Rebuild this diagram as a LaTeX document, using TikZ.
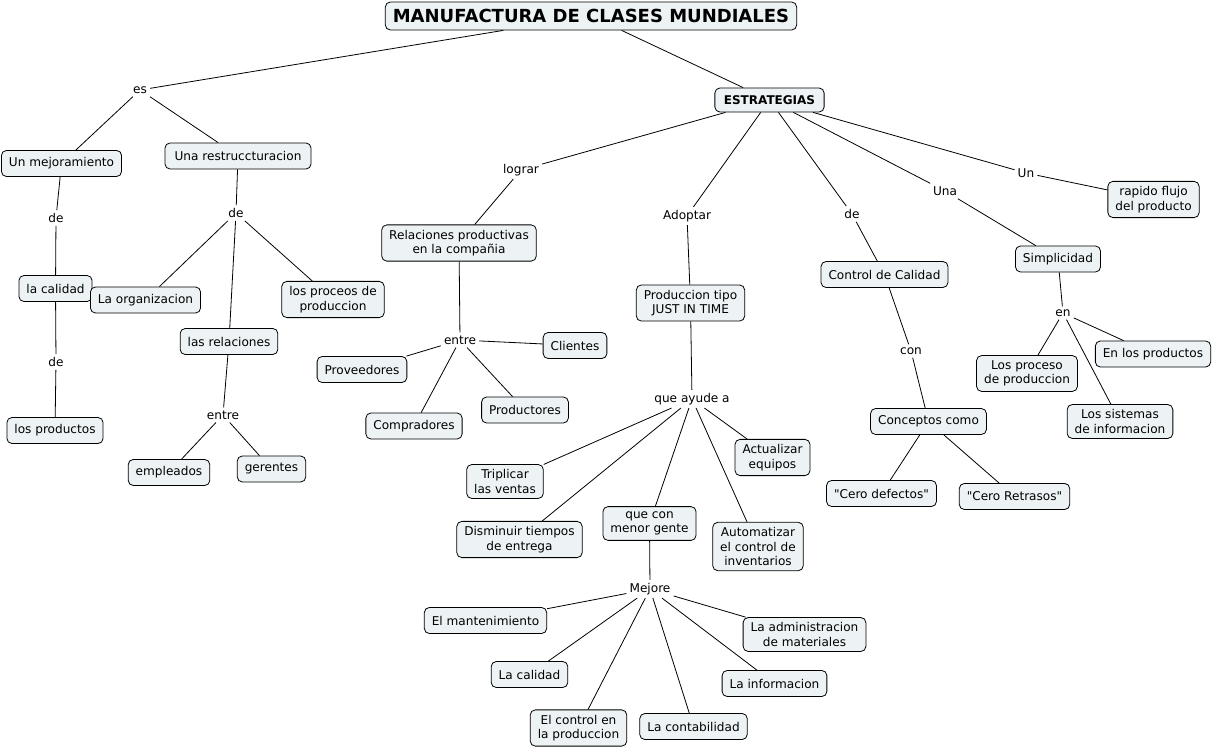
\documentclass[tikz,border=0pt]{standalone}
\usepackage{fontspec}
\setmainfont{DejaVu Sans}[Ligatures=TeXOff]
\definecolor{cfill}{RGB}{237,243,245}
\begin{document}
\begin{tikzpicture}[x=1pt,y=-1pt,
  every node/.append style={font=\fontsize{12.1}{14.5}\selectfont},
  concept/.style={draw, rounded corners=5pt, fill=cfill, inner xsep=7.5pt, inner ysep=5pt, minimum height=26pt, align=center, line width=0.8pt},
  lbl/.style={inner sep=3pt, align=center},
  conn/.style={line width=0.8pt}]
\useasboundingbox (0,0) rectangle (1213,751);
% top
\node[concept, font=\fontsize{18}{20}\selectfont\bfseries, minimum height=28pt, inner ysep=2pt] (title) at (591,16) {MANUFACTURA DE CLASES MUNDIALES};
\node[concept, font=\fontsize{12}{14}\selectfont\bfseries, minimum height=24pt, inner xsep=9pt, inner ysep=2pt] (estr) at (769.5,100) {ESTRATEGIAS};
% left branch
\node[lbl] (es) at (140,90) {es};
\node[concept] (mejor) at (61.5,163.5) {Un mejoramiento};
\node[concept, minimum width=146pt] (restr) at (238,156) {Una restruccturacion};
\node[lbl] (de1) at (56,218) {de};
\node[concept] (lacal) at (55.5,288.5) {la calidad};
\node[lbl] (de2) at (56,362) {de};
\node[concept] (losprod) at (55,430.5) {los productos};
\node[lbl] (de3) at (236,213) {de};
\node[concept] (org) at (145.5,300) {La organizacion};
\node[concept] (proceos) at (333,299.5) {los proceos de\\produccion};
\node[concept] (rel) at (229,341.5) {las relaciones};
\node[lbl] (entre1) at (223,415) {entre};
\node[concept] (empl) at (169,472.5) {empleados};
\node[concept] (ger) at (271.5,469) {gerentes};
% lograr branch
\node[lbl] (lograr) at (521,170) {lograr};
\node[concept] (relprod) at (459,243) {Relaciones productivas\\en la compañia};
\node[lbl] (entre2) at (460,340) {entre};
\node[concept] (clientes) at (575,345.5) {Clientes};
\node[concept] (prov) at (362,369.5) {Proveedores};
\node[concept] (comp) at (414,426) {Compradores};
\node[concept] (productores) at (525,410) {Productores};
% adoptar branch
\node[lbl] (adoptar) at (687,216) {Adoptar};
\node[concept] (jit) at (690.5,303) {Produccion tipo\\JUST IN TIME};
\node[lbl] (ayude) at (692,399) {que ayude a};
\node[concept] (actualizar) at (772.5,457.5) {Actualizar\\equipos};
\node[concept] (triplicar) at (505,481.5) {Triplicar\\las ventas};
\node[concept] (disminuir) at (519.5,539.5) {Disminuir tiempos\\de entrega};
\node[concept] (quecon) at (649.5,523.5) {que con\\menor gente};
\node[concept] (automatizar) at (758,546.5) {Automatizar\\el control de\\inventarios};
\node[lbl] (mejore) at (650,589) {Mejore};
\node[concept] (mant) at (485.5,620.5) {El mantenimiento};
\node[concept] (admin) at (804.5,634.5) {La administracion\\de materiales};
\node[concept] (cal2) at (529.5,674.5) {La calidad};
\node[concept] (info) at (774.5,683.5) {La informacion};
\node[concept] (ctrlprod) at (578.5,728) {El control en\\la produccion};
\node[concept] (contab) at (693.5,726.5) {La contabilidad};
% de branch
\node[lbl] (de4) at (852,214) {de};
\node[concept] (control) at (884.5,274.5) {Control de Calidad};
\node[lbl] (con) at (911,351) {con};
\node[concept] (conceptos) at (928.5,421.5) {Conceptos como};
\node[concept] (cero1) at (881.5,493.5) {"Cero defectos"};
\node[concept] (cero2) at (1014.5,496.5) {"Cero Retrasos"};
% una branch
\node[lbl] (una) at (945,191) {Una};
\node[concept] (simp) at (1058,259) {Simplicidad};
\node[lbl] (en) at (1063,313) {en};
\node[concept] (procprod) at (1027,373.5) {Los proceso\\de produccion};
\node[concept] (enprod) at (1153,354) {En los productos};
\node[concept] (sistemas) at (1120,421.5) {Los sistemas\\de informacion};
% un branch
\node[lbl] (un) at (1026,173) {Un};
\node[concept] (rapido) at (1153.5,199.5) {rapido flujo\\del producto};
% connectors
\draw[conn] (title) -- (es);
\draw[conn] (es) -- (mejor);
\draw[conn] (es) -- (restr);
\draw[conn] (title) -- (estr);
\draw[conn] (mejor) -- (de1);
\draw[conn] (de1) -- (lacal);
\draw[conn] (lacal) -- (de2);
\draw[conn] (de2) -- (losprod);
\draw[conn] (restr) -- (de3);
\draw[conn] (de3) -- (org);
\draw[conn] (de3) -- (rel);
\draw[conn] (de3) -- (proceos);
\draw[conn] (rel) -- (entre1);
\draw[conn] (entre1) -- (empl);
\draw[conn] (entre1) -- (ger);
\draw[conn] (estr) -- (lograr);
\draw[conn] (lograr) -- (relprod);
\draw[conn] (relprod) -- (entre2);
\draw[conn] (entre2) -- (clientes);
\draw[conn] (entre2) -- (prov);
\draw[conn] (entre2) -- (comp);
\draw[conn] (entre2) -- (productores);
\draw[conn] (estr) -- (adoptar);
\draw[conn] (adoptar) -- (jit);
\draw[conn] (jit) -- (ayude);
\draw[conn] (ayude) -- (actualizar);
\draw[conn] (ayude) -- (triplicar);
\draw[conn] (ayude) -- (disminuir);
\draw[conn] (ayude) -- (quecon);
\draw[conn] (ayude) -- (automatizar);
\draw[conn] (quecon) -- (mejore);
\draw[conn] (mejore) -- (mant);
\draw[conn] (mejore) -- (admin);
\draw[conn] (mejore) -- (cal2);
\draw[conn] (mejore) -- (info);
\draw[conn] (mejore) -- (ctrlprod);
\draw[conn] (mejore) -- (contab);
\draw[conn] (estr) -- (de4);
\draw[conn] (de4) -- (control);
\draw[conn] (control) -- (con);
\draw[conn] (con) -- (conceptos);
\draw[conn] (conceptos) -- (cero1);
\draw[conn] (conceptos) -- (cero2);
\draw[conn] (estr) -- (una);
\draw[conn] (una) -- (simp);
\draw[conn] (simp) -- (en);
\draw[conn] (en) -- (procprod);
\draw[conn] (en) -- (enprod);
\draw[conn] (en) -- (sistemas);
\draw[conn] (estr) -- (un);
\draw[conn] (un) -- (rapido);
\end{tikzpicture}
\end{document}
